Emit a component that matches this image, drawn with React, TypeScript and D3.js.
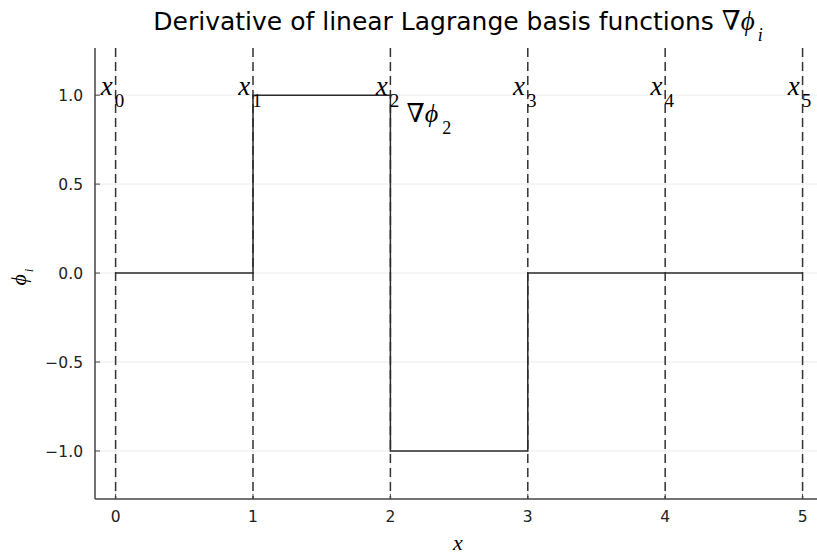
import React from "react";
import * as d3 from "d3";

// Mesh nodes and the piecewise-constant gradient of basis function φ₂
const nodes = [0, 1, 2, 3, 4, 5];
const gradPhi2 = [0, 1, -1, 0, 0, 0]; // value on [x_i, x_{i+1}), last entry closes the path
const xTicks = [0, 1, 2, 3, 4, 5];
const yTicks = [-1.0, -0.5, 0.0, 0.5, 1.0];
const labelNode = 2;
const labelPos = { x: 2.28, y: 0.89 };

const W = 817;
const H = 557;
const M = { left: 95, right: 0, top: 48, bottom: 58 };

export default function App() {
  const x = d3.scaleLinear().domain([-0.15, 5.105]).range([M.left, W - M.right]);
  const y = d3.scaleLinear().domain([-1.27, 1.265]).range([H - M.bottom, M.top]);

  const pts = nodes.map((n, i) => [n, gradPhi2[i]] as [number, number]);
  const line = d3
    .line<[number, number]>()
    .x((d) => x(d[0]))
    .y((d) => y(d[1]))
    .curve(d3.curveStepAfter);

  const fmtY = (v: number) => (v < 0 ? "\u2212" : "") + d3.format(".1f")(Math.abs(v));
  const mathFont = "'Liberation Serif', 'DejaVu Serif', serif";
  const sans = "'DejaVu Sans', sans-serif";
  const plotLeft = M.left;
  const plotBottom = H - M.bottom;

  return (
    <svg width={W} height={H} style={{ position: "absolute", left: 0, top: 0 }}>
      <rect width={W} height={H} fill="#fff" />
      {/* title */}
      <text x={458} y={30} textAnchor="middle" fontFamily={sans} fontSize={25} fill="#000">
        Derivative of linear Lagrange basis functions{" "}
        <tspan fontFamily={mathFont} fontSize={27}>∇</tspan>
        <tspan fontFamily={mathFont} fontStyle="italic" fontSize={27}>ϕ</tspan>
        <tspan fontFamily={mathFont} fontStyle="italic" fontSize={18} dx={3} dy={11}>i</tspan>
      </text>

      {/* grid */}
      {yTicks.map((t) => (
        <line key={"g" + t} x1={plotLeft} x2={W} y1={y(t)} y2={y(t)} stroke="#000" strokeOpacity={0.08} />
      ))}
      {xTicks.map((t) => (
        <line key={"gx" + t} x1={x(t)} x2={x(t)} y1={M.top} y2={plotBottom} stroke="#000" strokeOpacity={0.08} />
      ))}

      {/* node markers */}
      {nodes.map((n) => (
        <line
          key={"v" + n}
          x1={x(n)}
          x2={x(n)}
          y1={M.top}
          y2={plotBottom}
          stroke="#333"
          strokeWidth={1.5}
          strokeDasharray="9 5"
        />
      ))}

      {/* gradient */}
      <path d={line(pts) || ""} fill="none" stroke="#2a2a2a" strokeWidth={1.5} />

      {/* axes */}
      <line x1={plotLeft} x2={plotLeft} y1={M.top} y2={plotBottom} stroke="#444" strokeWidth={1.5} />
      <line x1={plotLeft} x2={W} y1={plotBottom} y2={plotBottom} stroke="#444" strokeWidth={1.5} />
      {yTicks.map((t) => (
        <g key={"yt" + t}>
          <line x1={plotLeft} x2={plotLeft + 5} y1={y(t)} y2={y(t)} stroke="#444" />
          <text x={plotLeft - 12} y={y(t)} dy="0.36em" textAnchor="end" fontFamily={sans} fontSize={15.5} fill="#222">
            {fmtY(t)}
          </text>
        </g>
      ))}
      {xTicks.map((t) => (
        <g key={"xt" + t}>
          <line x1={x(t)} x2={x(t)} y1={plotBottom} y2={plotBottom - 5} stroke="#444" />
          <text x={x(t)} y={plotBottom + 23} textAnchor="middle" fontFamily={sans} fontSize={15.5} fill="#222">
            {t}
          </text>
        </g>
      ))}

      {/* node labels */}
      {nodes.map((n, i) => (
        <text key={"l" + n} x={x(n) - 3} y={y(1.0)} textAnchor="middle" fontFamily={mathFont} fontSize={27} fill="#000">
          <tspan fontStyle="italic">x</tspan>
          <tspan fontSize={19} dx={2} dy={12}>{i}</tspan>
        </text>
      ))}

      {/* function label */}
      <text x={x(labelPos.x)} y={y(labelPos.y) + 7} textAnchor="middle" fontFamily={mathFont} fontSize={26} fill="#000">
        <tspan>∇</tspan>
        <tspan fontStyle="italic">ϕ</tspan>
        <tspan fontSize={18} dx={4} dy={12}>{labelNode}</tspan>
      </text>

      {/* axis labels */}
      <text x={458} y={550} textAnchor="middle" fontFamily={mathFont} fontStyle="italic" fontSize={22} fill="#000">
        x
      </text>
      <text transform={`translate(26, ${y(0) + 4}) rotate(-90)`} textAnchor="middle" fontFamily={mathFont} fontSize={22} fill="#000">
        <tspan fontStyle="italic">ϕ</tspan>
        <tspan fontStyle="italic" fontSize={13} dx={2} dy={7}>i</tspan>
      </text>
    </svg>
  );
}
